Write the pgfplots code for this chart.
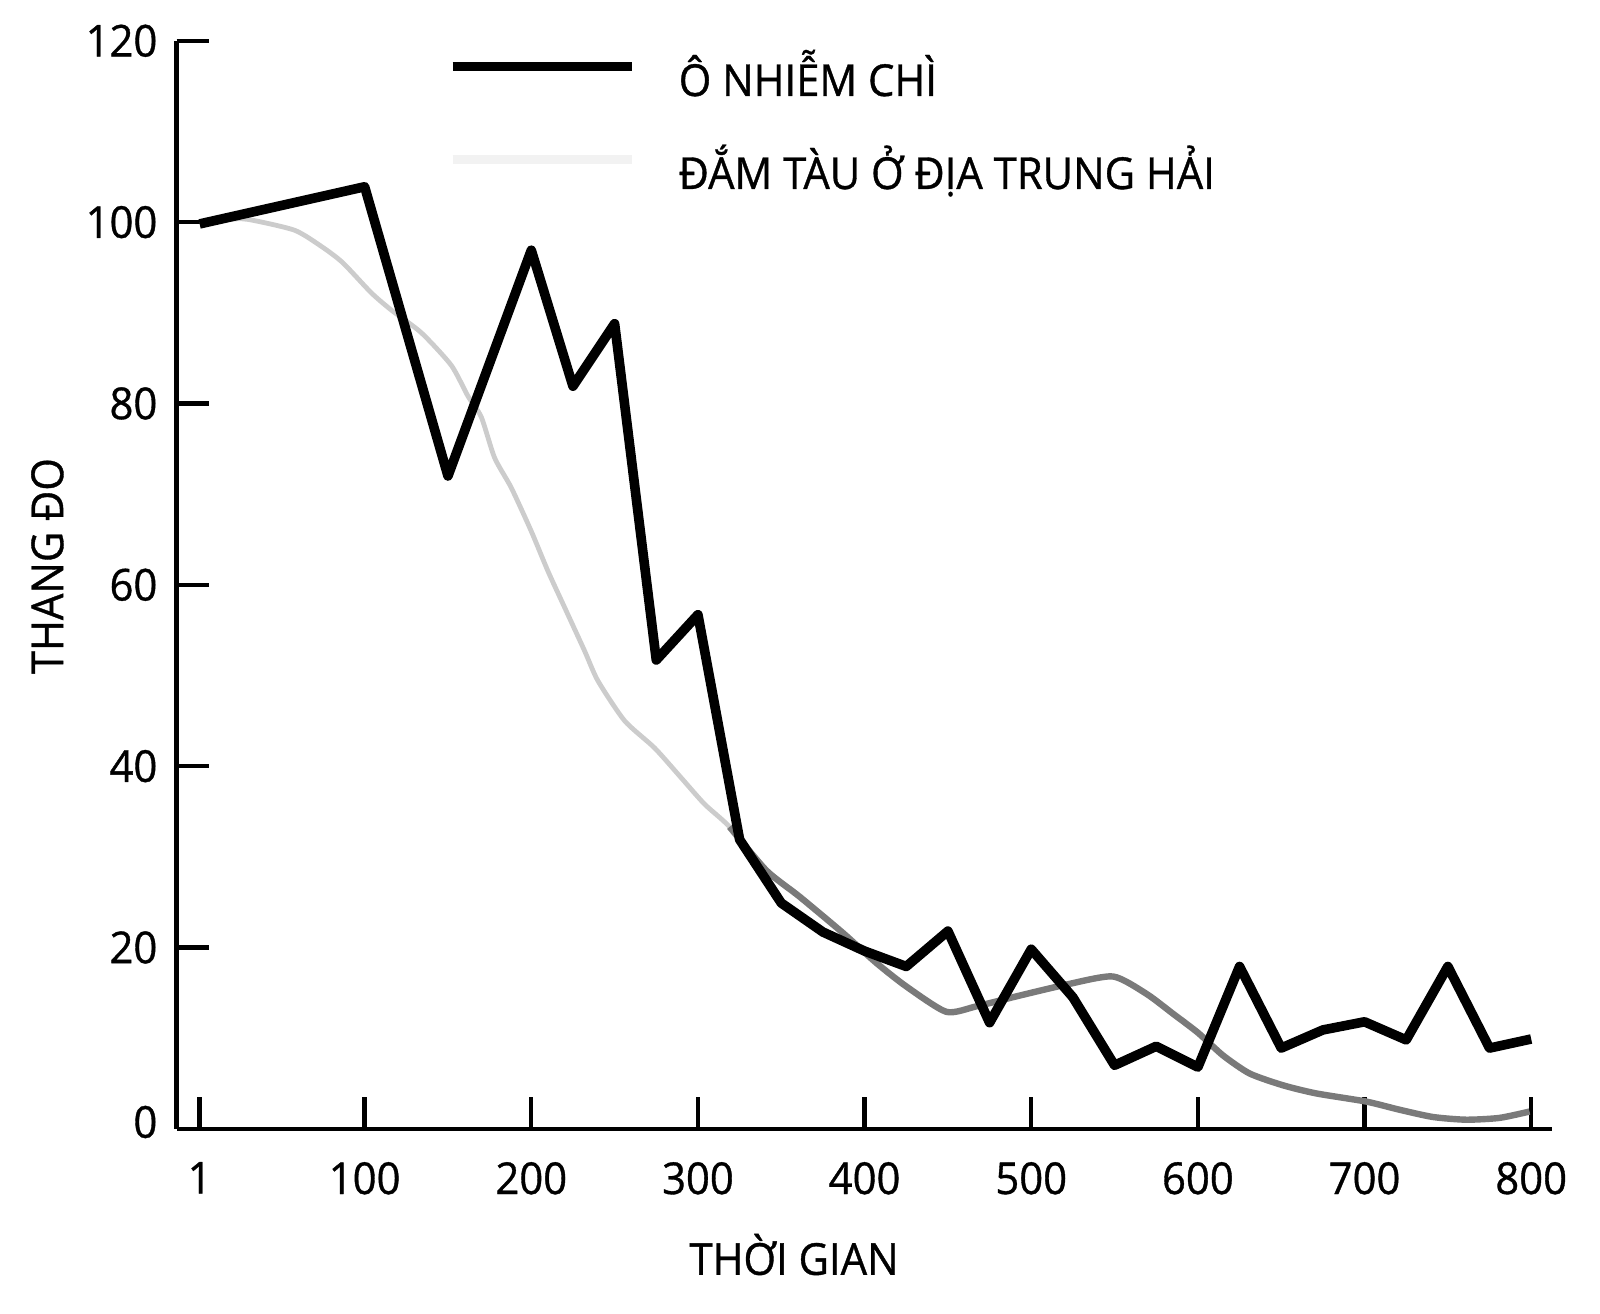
\documentclass[border=0pt]{standalone}
\usepackage{fontspec}
\setmainfont{Open Sans}[FakeStretch=0.95, FakeBold=0.8]
\usepackage{pgfplots}
\pgfplotsset{compat=1.18}
\pgfplotstableread{
x y
1 99.8
100 103.9
150 72.0
200 96.9
225 81.9
250 88.8
275 51.7
300 56.7
325 31.9
350 24.9
375 21.7
400 19.6
425 17.9
450 21.8
475 11.7
500 19.8
525 14.5
550 7.0
575 9.1
600 6.8
625 17.9
650 8.9
675 10.9
700 11.8
725 9.8
750 17.9
775 8.9
800 9.9
}\lead
\pgfplotstableread{
x y
1 100
18 100.3
30 100.3
58 99.1
75 97.2
87 95.5
104 92.2
116 90.3
134 87.8
152 84.2
162 80.8
170 78.5
178 74.0
188 70.7
200 65.9
210 61.5
220 57.5
232 52.7
240 49.4
256 45.0
274 42.0
290 38.7
304 35.8
319 33.3
341 28.5
}\wreckA
\pgfplotstableread{
x y
319 33.3
341 28.5
361 25.6
387 21.6
407 18.3
425 15.7
449 12.9
467 13.5
491 14.6
521 15.9
549 16.8
569 14.9
585 12.7
600 10.6
615 8.1
631 6.1
651 4.8
671 3.9
701 3.0
721 2.1
741 1.3
761 1.0
781 1.2
799 1.9
}\wreckB
\begin{document}
\begin{tikzpicture}
\path[use as bounding box] (-44.175pt,-46.3pt) rectangle (355.825pt,282.2pt);
\begin{axis}[
  scale only axis, width=343.75pt, height=272pt,
  xmin=-12.78, xmax=812.3, ymin=0, ymax=120,
  axis x line=bottom, axis y line=left,
  axis line style={-, line width=1.1pt},
  xtick={1,100,200,300,400,500,600,700,800},
  ytick={0,20,40,60,80,100,120},
  yticklabels={\raisebox{3.5pt}{0},20,40,60,80,100,120},
  tick align=inside, major tick length=8pt,
  tick style={line width=1.1pt, black},
  /pgf/number format/assume math mode=true,
  ticklabel style={font=\fontsize{11}{13}\selectfont},
  yticklabel style={xshift=-1.3pt},
  xticklabel style={yshift=-4.8pt},
  label style={font=\fontsize{11}{13}\selectfont},
  xlabel={THỜI GIAN}, ylabel={THANG ĐO},
  xlabel style={at={(axis description cs:0.449,-0.1342)}, anchor=base},
  ylabel style={at={(axis description cs:-0.0826,0.5172)}, anchor=base},
  clip=false,
  legend image code/.code={\draw[#1] (0pt,7.4pt) -- (44.97pt,7.4pt);},
  legend style={at={(axis description cs:0.1971,0.9934)}, anchor=north west,
    draw=none, fill=none, inner sep=0pt, outer sep=0pt,
    row sep=9.25pt, column sep=10.4pt,
    nodes={anchor=base west, inner sep=0pt, text height=12pt, text depth=2pt,
      font=\fontsize{11}{13}\selectfont}},
  legend cell align=left,
]
\addplot[black!20, line width=1.2pt, smooth, tension=0.4, forget plot] table[x=x,y=y] {\wreckA};
\addplot[black!52, line width=1.6pt, smooth, tension=0.4, forget plot] table[x=x,y=y] {\wreckB};
\addplot[black, line width=2.4pt, line join=round] table[x=x,y=y] {\lead};
\addlegendentry{Ô NHIỄM CHÌ}
\addlegendimage{black!5, line width=2.2pt}
\addlegendentry{ĐẮM TÀU Ở ĐỊA TRUNG HẢI}
\end{axis}
\end{tikzpicture}
\end{document}
